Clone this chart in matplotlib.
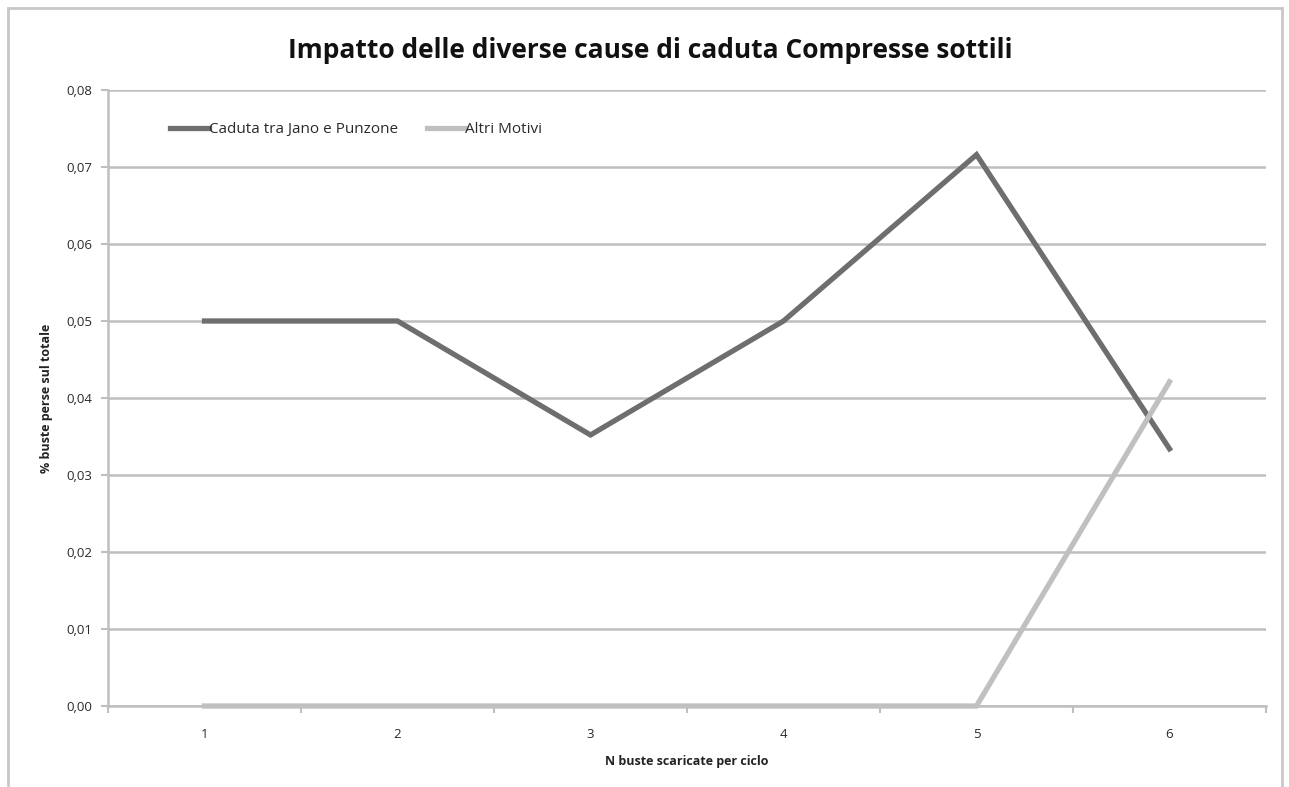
import numpy as np
import matplotlib.pyplot as plt
from matplotlib.patches import Rectangle
from matplotlib.ticker import FuncFormatter, FixedLocator

# buste scaricate per ciclo
cicli = [1, 2, 3, 4, 5, 6]
caduta_jano_punzone = [0.050, 0.050, 0.0352, 0.050, 0.0716, 0.0334]
altri_motivi = [0.0, 0.0, 0.0, 0.0, 0.0, 0.0421]

plt.rcParams['font.family'] = ['Open Sans', 'DejaVu Sans']

fig = plt.figure(figsize=(12.89, 7.87), dpi=100)
ax = fig.add_axes([108/1289, 1 - 706/787, (1266 - 108)/1289, (706 - 90)/787])

# cornice esterna del grafico
fig.patches.append(Rectangle((8/1289, -0.05), (1282 - 8)/1289, 1.05 - 8/787,
                             transform=fig.transFigure, fill=False,
                             edgecolor='#c8c8c8', linewidth=2))

grid_col = '#bfbfbf'

ax.plot(cicli, caduta_jano_punzone, color='#6e6e6e', linewidth=3.8,
        solid_joinstyle='miter', label='Caduta tra Jano e Punzone', zorder=3)
ax.plot(cicli, altri_motivi, color='#c0c0c0', linewidth=3.8,
        solid_joinstyle='miter', label='Altri Motivi', zorder=4, clip_on=False)

ax.set_xlim(0.5, 6.5)
ax.set_ylim(0, 0.08)
ax.set_yticks(np.arange(0, 0.081, 0.01))
ax.yaxis.set_major_formatter(FuncFormatter(lambda v, p: f'{v:.2f}'.replace('.', ',')))
ax.set_xticks(cicli)
ax.xaxis.set_minor_locator(FixedLocator(np.arange(0.5, 6.6, 1.0)))

ax.yaxis.grid(True, color=grid_col, linewidth=1.8)
ax.set_axisbelow(True)
for s in ['top', 'right']:
    ax.spines[s].set_visible(False)
for s in ['left', 'bottom']:
    ax.spines[s].set_color(grid_col)
    ax.spines[s].set_linewidth(1.8)

ax.tick_params(axis='y', length=5, width=1.5, color=grid_col, labelsize=9.5,
               labelcolor='#2a2a2a', pad=6)
ax.tick_params(axis='x', which='major', length=0, labelsize=9.5,
               labelcolor='#2a2a2a', pad=16)
ax.tick_params(axis='x', which='minor', length=5, width=1.5, color=grid_col)

ax.set_xlabel('N buste scaricate per ciclo', fontsize=9, fontweight='bold',
              color='#222222', labelpad=10)
ax.set_ylabel('% buste perse sul totale', fontsize=9, fontweight='bold',
              color='#222222', labelpad=10)

fig.text(650/1289, 1 - 50/787, 'Impatto delle diverse cause di caduta Compresse sottili',
         ha='center', va='center', fontsize=19, fontweight='bold', color='#111111')

ax.legend(loc='upper left', bbox_to_anchor=(0.042, 0.97), ncol=2, frameon=False,
          fontsize=11, handlelength=2.5, handletextpad=0.0, columnspacing=1.9,
          labelcolor='#2a2a2a')

fig.savefig('out.png', dpi=100, facecolor='white')
